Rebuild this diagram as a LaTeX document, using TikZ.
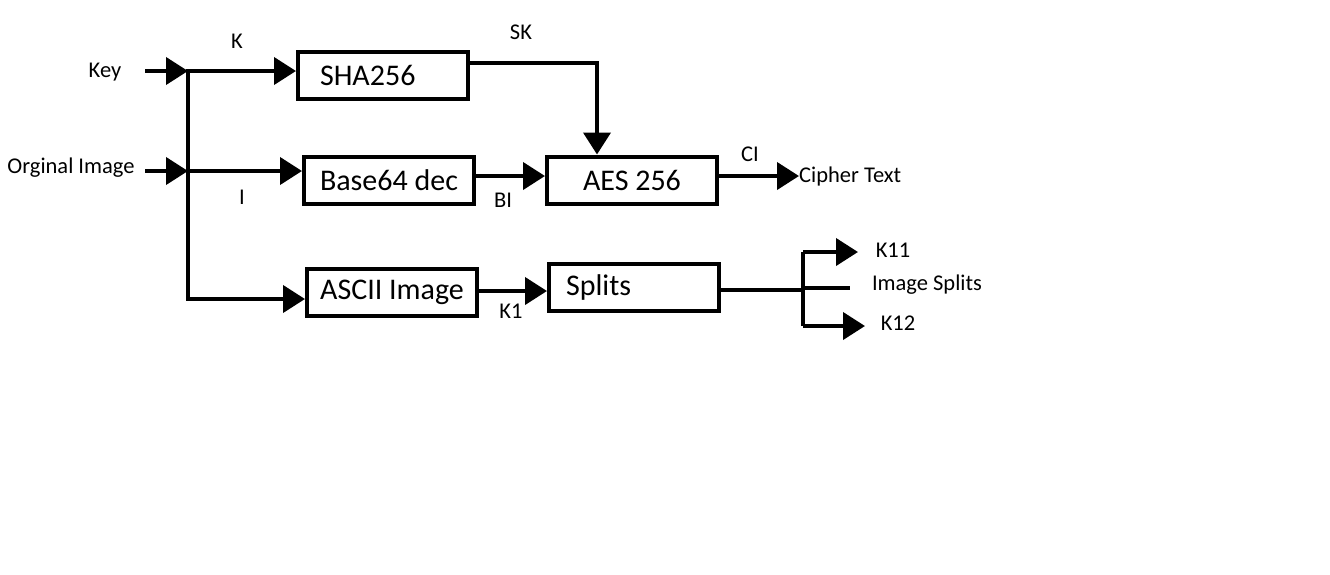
\documentclass[tikz,border=0pt]{standalone}
\usepackage{fontspec}
\setmainfont{Carlito}
\usetikzlibrary{arrows.meta,calc}
\begin{document}
\begin{tikzpicture}[x=1pt,y=-1pt,
  box/.style={draw, line width=4pt, minimum width=170pt, minimum height=47pt, inner xsep=0pt, font=\fontsize{30}{32}\selectfont},
  lbl/.style={font=\fontsize{22.5}{24}\selectfont, inner sep=0pt},
  conn/.style={line width=4pt},
  arr/.style={conn, -{Triangle[length=22pt,width=27pt]}}]
\useasboundingbox (0,0) rectangle (1330,574);
% boxes
\node[box, text width=126pt, align=left] (sha) at (383,75.5) {SHA256};
\node[box] (b64) at (389,180.5) {Base64 dec};
\node[box] (asc) at (392,292.5) {ASCII Image};
\node[box] (aes) at (632,180) {AES 256};
\node[box, text width=136pt, align=left] (spl) at (634,287.5) {Splits};
% text
\node[lbl] (key) at (105,72) {Key};
\node[lbl] (orig) at (71,168) {Orginal Image};
\node[lbl, anchor=west] (ct) at (799,176) {Cipher Text};
\node[lbl] (lk) at (237,41) {K};
\node[lbl] (li) at (242,197) {I};
\node[lbl] (lsk) at (521,32) {SK};
\node[lbl] (lbi) at (503,200) {BI};
\node[lbl] (lci) at (750,154) {CI};
\node[lbl] (lk1) at (511,311) {K1};
\node[lbl] (lk11) at (893,250) {K11};
\node[lbl] (lis) at (927,285) {Image Splits};
\node[lbl] (lk12) at (898,323) {K12};
% junction coordinates
\coordinate (keyS) at (145,71);
\coordinate (origS) at (145,171);
\coordinate (j1) at (188,71);
\coordinate (j2) at (188,171);
\coordinate (j3) at (188,299);
\coordinate (js) at (803,290);
\coordinate (jt) at (803,252);
\coordinate (jb) at (803,326);
\coordinate (k11t) at (858,252);
\coordinate (k12t) at (865,326);
\coordinate (ise) at (850,288);
% connectors
\draw[arr] (keyS) -- (j1);
\draw[arr] (origS) -- (j2);
\draw[conn, line cap=rect] (j1) -- (j3);
\draw[arr] (j1) -- (j1 -| sha.west);
\draw[arr] (j2) -- (j2 -| b64.west);
\draw[arr, line cap=rect] (j3) -- (j3 -| asc.west);
\draw[arr] (sha.east |- 0,63) -| ([xshift=-35pt]aes.north);
\draw[arr] (b64.east |- 0,176) -- (aes.west |- 0,176);
\draw[arr] (aes.east |- ct.west) -- (ct.west);
\draw[arr] (asc.east |- 0,291) -- (spl.west |- 0,291);
\draw[conn] (spl.east |- js) -- (js);
\draw[conn] (jt) -- (jb);
\draw[arr] (jt) -- (k11t);
\draw[arr] (jb) -- (k12t);
\draw[conn] (js |- ise) -- (ise);
\end{tikzpicture}
\end{document}
